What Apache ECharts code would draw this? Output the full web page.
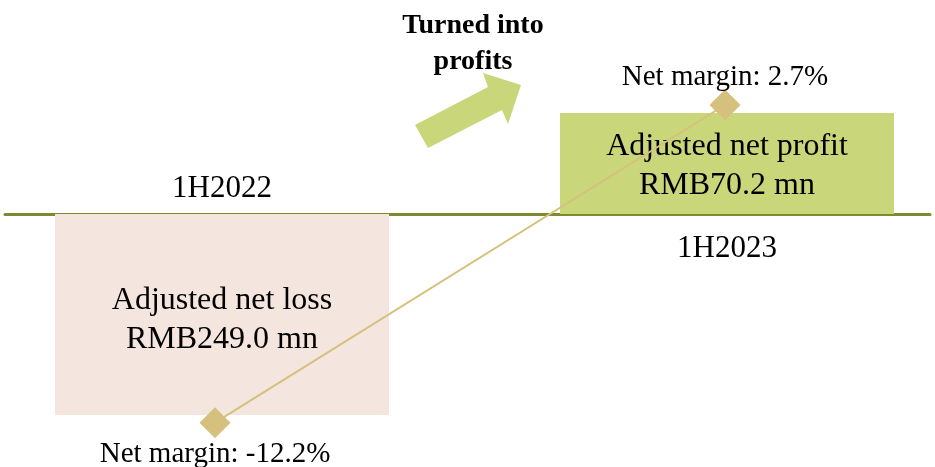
<!DOCTYPE html>
<html>
<head>
<meta charset="utf-8">
<script src="https://cdn.jsdelivr.net/npm/echarts@6/dist/echarts.min.js"></script>
<style>html,body{margin:0;padding:0;background:#fff;}#c{width:935px;height:467px;}</style>
</head>
<body>
<div id="c"></div>
<script>
var categories = ['1H2022', '1H2023'];
var barTitles = ['Adjusted net loss', 'Adjusted net profit'];
var adjustedNet = [-249.0, 70.2];      // RMB mn
var netMargin = [-12.2, 2.7];          // %
var annotation = 'Turned into\nprofits';

var FONT = '"Liberation Serif", "Times New Roman", serif';
var lossColor = '#F4E6DF', profitColor = '#C9D67A', lineColor = '#D6C07E', axisColor = '#7E8A30';

var lossData = [[0, adjustedNet[0]]];
var profitData = [[1, adjustedNet[1]]];
var marginData = netMargin.map(function (v, i) {
  return { value: [i, v], label: { position: i === 0 ? 'bottom' : 'top', distance: i === 0 ? 2 : -2 } };
});

function barLabel(p) {
  var i = p.value[0];
  return barTitles[i] + '\nRMB' + Math.abs(p.value[1]).toFixed(1) + ' mn';
}
function catLabel(p) { return categories[p.value[0]]; }

function barText(dy) {
  return { show: true, position: 'inside', offset: [0, dy], formatter: barLabel, fontFamily: FONT, fontSize: 32, lineHeight: 39, color: '#000' };
}

var chart = echarts.init(document.getElementById('c'));
chart.setOption({
  animation: false,
  grid: [
    { left: 0, right: 0, top: 0, bottom: 0 },
    { left: 5, right: 5, top: 0, bottom: 253 }
  ],
  xAxis: [
    { type: 'value', gridIndex: 0, min: -0.4396, max: 1.4119, show: false, splitLine: { show: false } },
    { type: 'category', gridIndex: 1, data: categories, position: 'bottom',
      axisLine: { show: true, lineStyle: { color: axisColor, width: 3 } },
      axisTick: { show: false }, axisLabel: { show: false }, splitLine: { show: false } },
    { type: 'value', gridIndex: 0, min: -0.4216, max: 1.4118, show: false, splitLine: { show: false } }
  ],
  yAxis: [
    { type: 'value', gridIndex: 0, min: -313.5, max: 265.1, show: false, splitLine: { show: false } },
    { type: 'value', gridIndex: 0, min: -175.9, max: 148.7, show: false, splitLine: { show: false } },
    { type: 'value', gridIndex: 0, min: -14.28, max: 7.625, show: false, splitLine: { show: false } },
    { type: 'value', gridIndex: 1, min: 0, max: 1, show: false, splitLine: { show: false } }
  ],
  series: [
    { type: 'bar', xAxisIndex: 0, yAxisIndex: 0, data: lossData, barWidth: 334, barGap: '-100%',
      itemStyle: { color: lossColor }, z: 1, label: barText(6) },
    { type: 'bar', xAxisIndex: 0, yAxisIndex: 1, data: profitData, barWidth: 334, barGap: '-100%',
      itemStyle: { color: profitColor }, z: 1, label: barText(3) },
    { type: 'bar', xAxisIndex: 0, yAxisIndex: 0, data: lossData, barWidth: 334, barGap: '-100%',
      itemStyle: { color: 'rgba(0,0,0,0)' }, z: 0, silent: true,
      label: { show: true, position: 'top', distance: 10, formatter: catLabel, fontFamily: FONT, fontSize: 31, color: '#000' } },
    { type: 'bar', xAxisIndex: 0, yAxisIndex: 1, data: profitData, barWidth: 334, barGap: '-100%',
      itemStyle: { color: 'rgba(0,0,0,0)' }, z: 0, silent: true,
      label: { show: true, position: 'bottom', distance: 19, formatter: catLabel, fontFamily: FONT, fontSize: 31, color: '#000' } },
    { type: 'line', xAxisIndex: 2, yAxisIndex: 2, z: 5,
      data: marginData,
      symbol: 'diamond', symbolSize: 31,
      lineStyle: { color: lineColor, width: 2 },
      itemStyle: { color: lineColor },
      label: { show: true, fontFamily: FONT, fontSize: 29, color: '#000',
        formatter: function (p) { return 'Net margin: ' + p.value[1].toFixed(1) + '%'; } } }
  ],
  graphic: [
    { type: 'polygon', z: 10,
      shape: { points: [[415, 125], [488, 87], [483, 73], [521, 85], [508, 124], [502, 110], [428, 148]] },
      style: { fill: profitColor } },
    { type: 'text', z: 10, x: 473, y: 8,
      style: { text: annotation, fontFamily: FONT, fontWeight: 'bold', fontSize: 28, lineHeight: 36,
        align: 'center', verticalAlign: 'top', fill: '#000' } }
  ]
});
</script>
</body>
</html>
